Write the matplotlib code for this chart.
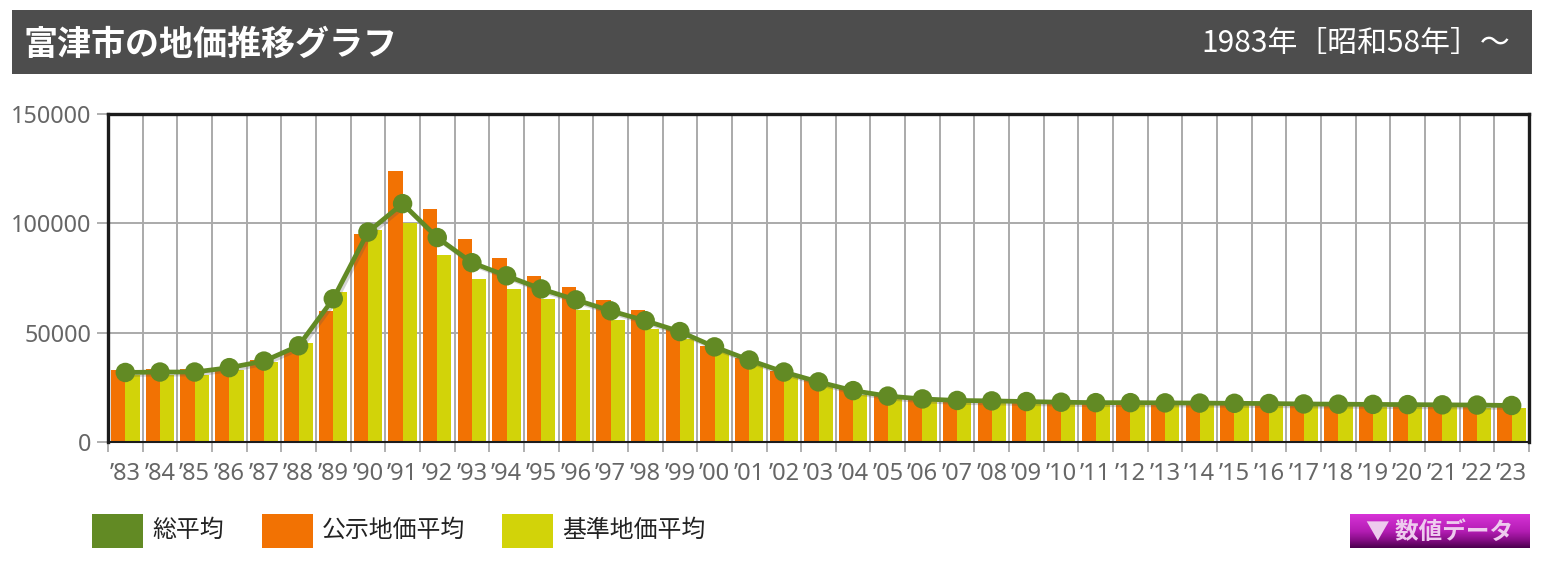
import numpy as np
import matplotlib
matplotlib.use('Agg')
from matplotlib import pyplot as plt
from matplotlib.patches import Rectangle
from matplotlib import patheffects as pe
from matplotlib.colors import LinearSegmentedColormap

plt.rcParams['font.family'] = ['Noto Sans CJK JP', 'DejaVu Sans']

W, H = 1547, 577

years = ['83', '84', '85', '86', '87', '88', '89', '90', '91', '92', '93', '94', '95', '96',
         '97', '98', '99', '00', '01', '02', '03', '04', '05', '06', '07', '08', '09', '10',
         '11', '12', '13', '14', '15', '16', '17', '18', '19', '20', '21', '22', '23']
# 総平均
total_avg = [31800, 32000, 32000, 34000, 37000, 44000, 65500, 96000, 109000, 93500, 82000,
             76000, 70000, 65000, 60000, 55500, 50500, 43500, 37500, 32000, 27500, 23500,
             21000, 19700, 19000, 18800, 18500, 18200, 18000, 18000, 17900, 17800, 17700,
             17600, 17400, 17300, 17200, 17100, 17000, 16900, 16700]
# 公示地価平均
koji_avg = [33000, 33500, 33500, 34000, 37500, 42000, 60000, 95000, 124000, 106500, 93000,
            84000, 76000, 71000, 65000, 60500, 52000, 44000, 38500, 32500, 28500, 24500,
            21500, 20000, 19300, 19000, 18800, 18500, 18400, 18300, 18200, 18100, 18000,
            17900, 17700, 17600, 17500, 17400, 17300, 17200, 17000]
# 基準地価平均
kijun_avg = [30500, 30500, 30500, 33000, 36500, 45500, 68500, 97000, 100000, 85500, 74500,
             70000, 65500, 60500, 56000, 51500, 47000, 41500, 35000, 30000, 25500, 21500,
             19500, 19000, 18300, 18000, 17800, 17500, 17300, 17200, 17000, 17000, 16900,
             16800, 16600, 16400, 16200, 16000, 15900, 15700, 15500]
y_ticks = [0, 50000, 100000, 150000]

GREEN = '#628a24'
ORANGE = '#f27203'
YELLOW = '#d2d309'
GRID = '#aaaaaa'
TEXT = '#666666'


def px_axes(x0, y0, x1, y1):
    """axes from pixel box, y measured from the top"""
    return fig.add_axes([x0 / W, 1 - y1 / H, (x1 - x0) / W, (y1 - y0) / H])


def px_rect(x0, y0, x1, y1, color):
    fig.add_artist(Rectangle((x0 / W, 1 - y1 / H), (x1 - x0) / W, (y1 - y0) / H,
                             transform=fig.transFigure, fc=color, ec='none'))


fig = plt.figure(figsize=(W / 100, H / 100), dpi=100)

# title band
px_rect(12, 10, 1532, 74, '#4d4d4d')
fig.text(23 / W, 1 - 44 / H, '富津市の地価推移グラフ', color='white', fontsize=24.5,
         fontweight='bold', va='center', ha='left')
fig.text(1510 / W, 1 - 44 / H, '1983年［昭和58年］〜', color='white', fontsize=21.5,
         va='center', ha='right')

# main chart
ax = px_axes(108, 114, 1529, 442)
n = len(years)
centers = np.arange(n) + 0.5
bar_w = 0.41
ax.bar(centers, koji_avg, width=-bar_w, align='edge', color=ORANGE, zorder=3)
ax.bar(centers, kijun_avg, width=bar_w, align='edge', color=YELLOW, zorder=3)
ax.plot(centers, total_avg, '-o', color=GREEN, lw=3.4, ms=14, mew=0, zorder=5,
        path_effects=[pe.SimpleLineShadow(offset=(1.5, -1.5), shadow_color='#555555', alpha=0.25),
                      pe.Normal()], clip_on=False)

ax.set_xlim(0, n)
ax.set_ylim(0, 150000)
ax.set_xticks(np.arange(n + 1))
ax.set_xticklabels([])
ax.set_xticks(centers, minor=True)
ax.set_xticklabels(['’' + y for y in years], minor=True, family=['Noto Sans'],
                   fontsize=17, color=TEXT)
ax.set_yticks(y_ticks)
ax.set_yticklabels([str(v) for v in y_ticks], family=['Noto Sans'], fontsize=16.8, color=TEXT)
ax.tick_params(axis='x', which='major', length=7.5, width=1.3, color=GRID)
ax.tick_params(axis='x', which='minor', length=0, pad=14.5)
ax.tick_params(axis='y', which='major', length=8, width=1.3, color=GRID, pad=4)
ax.grid(True, which='major', color=GRID, lw=1.4, zorder=1)
ax.set_axisbelow(True)
for side in ['left', 'top', 'right']:
    ax.spines[side].set_linewidth(2.4)
    ax.spines[side].set_color('#1c1c1c')
ax.spines['bottom'].set_linewidth(1.5)
ax.spines['bottom'].set_color('#1c1c1c')
ax.spines['bottom'].set_zorder(6)

# legend
legend_items = [('総平均', GREEN, 92, 143), ('公示地価平均', ORANGE, 262, 313), ('基準地価平均', YELLOW, 502, 553)]
for label, color, x0, x1 in legend_items:
    px_rect(x0, 514, x1, 548, color)
    fig.text((x1 + 9) / W, 1 - 530 / H, label, color='#222222', fontsize=17.2, va='center', ha='left')

# data button
btn = px_axes(1350, 514, 1530, 548)
btn_cmap = LinearSegmentedColormap.from_list(
    'btn', [(0, '#d632d6'), (0.5, '#b41db4'), (0.75, '#8a0e8a'), (1, '#4e0050')])
btn.imshow(np.linspace(0, 1, 34).reshape(-1, 1), aspect='auto', cmap=btn_cmap)
btn.axis('off')
btn.text(0.5, 0.47, '▼ 数値データ', color='#eecbee', fontsize=17, fontweight='bold',
         ha='center', va='center', transform=btn.transAxes)

fig.savefig('out.png', dpi=100)
